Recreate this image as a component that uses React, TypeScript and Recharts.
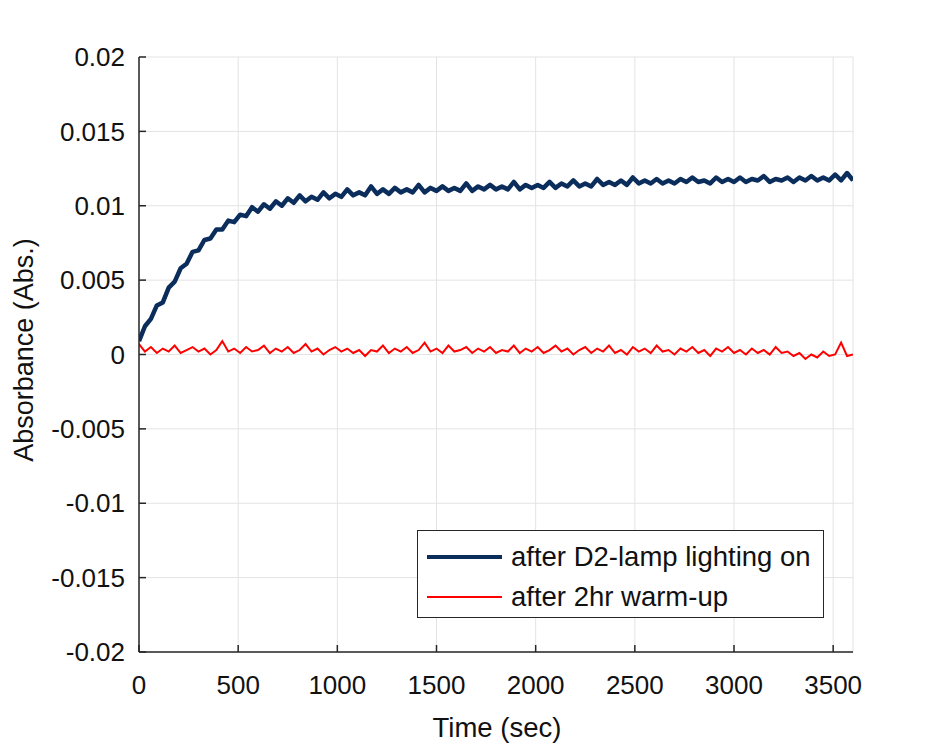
import React from 'react';
import { LineChart, Line, XAxis, YAxis, CartesianGrid, Legend, Label } from 'recharts';

const TIME = [
  0, 30, 60, 90, 120, 150, 180, 210, 240, 270, 300, 330, 360, 390, 420, 450, 480, 510, 540, 570,
  600, 630, 660, 690, 720, 750, 780, 810, 840, 870, 900, 930, 960, 990, 1020, 1050, 1080, 1110, 1140, 1170,
  1200, 1230, 1260, 1290, 1320, 1350, 1380, 1410, 1440, 1470, 1500, 1530, 1560, 1590, 1620, 1650, 1680, 1710, 1740, 1770,
  1800, 1830, 1860, 1890, 1920, 1950, 1980, 2010, 2040, 2070, 2100, 2130, 2160, 2190, 2220, 2250, 2280, 2310, 2340, 2370,
  2400, 2430, 2460, 2490, 2520, 2550, 2580, 2610, 2640, 2670, 2700, 2730, 2760, 2790, 2820, 2850, 2880, 2910, 2940, 2970,
  3000, 3030, 3060, 3090, 3120, 3150, 3180, 3210, 3240, 3270, 3300, 3330, 3360, 3390, 3420, 3450, 3480, 3510, 3540, 3570,
  3600,
];

const LAMP_ON = [
  0.0009, 0.0019, 0.0024, 0.0033, 0.0035, 0.0045, 0.0049, 0.0058, 0.0061, 0.0069, 0.0070, 0.0077, 0.0078, 0.0084, 0.0084, 0.0090, 0.0089, 0.0094, 0.0093, 0.0099,
  0.0096, 0.0101, 0.0098, 0.0103, 0.0100, 0.0105, 0.0102, 0.0107, 0.0103, 0.0106, 0.0104, 0.0109, 0.0105, 0.0108, 0.0106, 0.0111, 0.0107, 0.0109, 0.0107, 0.0113,
  0.0108, 0.0111, 0.0108, 0.0112, 0.0109, 0.0111, 0.0109, 0.0114, 0.0109, 0.0112, 0.0110, 0.0113, 0.0110, 0.0112, 0.0110, 0.0115, 0.0110, 0.0113, 0.0111, 0.0114,
  0.0111, 0.0113, 0.0111, 0.0116, 0.0111, 0.0114, 0.0112, 0.0114, 0.0112, 0.0116, 0.0112, 0.0115, 0.0113, 0.0117, 0.0113, 0.0115, 0.0113, 0.0118, 0.0114, 0.0116,
  0.0114, 0.0117, 0.0114, 0.0119, 0.0115, 0.0117, 0.0115, 0.0118, 0.0115, 0.0117, 0.0115, 0.0118, 0.0116, 0.0119, 0.0116, 0.0117, 0.0115, 0.0119, 0.0116, 0.0118,
  0.0116, 0.0119, 0.0116, 0.0118, 0.0117, 0.0120, 0.0116, 0.0118, 0.0117, 0.0119, 0.0116, 0.0119, 0.0117, 0.0120, 0.0117, 0.0119, 0.0117, 0.0121, 0.0117, 0.0122,
  0.0117,
];

const WARM_UP = [
  0.0007, 0.0002, 0.0005, 0.0001, 0.0004, 0.0002, 0.0006, 0.0001, 0.0003, 0.0005, 0.0002, 0.0004, 0.0000, 0.0003, 0.0009, 0.0002, 0.0004, 0.0001, 0.0005, 0.0002,
  0.0003, 0.0006, 0.0001, 0.0004, 0.0002, 0.0005, 0.0001, 0.0003, 0.0007, 0.0002, 0.0004, 0.0000, 0.0003, 0.0005, 0.0002, 0.0004, 0.0001, 0.0003, -0.0001, 0.0003,
  0.0002, 0.0006, 0.0001, 0.0004, 0.0002, 0.0005, 0.0001, 0.0003, 0.0008, 0.0002, 0.0004, 0.0001, 0.0006, 0.0002, 0.0003, 0.0005, 0.0001, 0.0004, 0.0002, 0.0005,
  0.0001, 0.0003, 0.0002, 0.0006, 0.0001, 0.0004, 0.0002, 0.0005, 0.0001, 0.0003, 0.0006, 0.0002, 0.0004, 0.0000, 0.0003, 0.0005, 0.0001, 0.0004, 0.0002, 0.0006,
  0.0001, 0.0003, 0.0000, 0.0005, 0.0002, 0.0004, 0.0001, 0.0006, 0.0002, 0.0003, 0.0000, 0.0004, 0.0002, 0.0005, 0.0001, 0.0003, -0.0001, 0.0004, 0.0002, 0.0005,
  0.0001, 0.0003, 0.0000, 0.0004, 0.0001, 0.0003, 0.0000, 0.0005, 0.0001, 0.0002, -0.0001, 0.0001, -0.0003, 0.0000, -0.0002, 0.0002, -0.0001, 0.0000, 0.0008, -0.0001,
  0.0000,
];

const SERIES_NAMES = ['after D2-lamp lighting on', 'after 2hr warm-up'];
const SERIES_COLORS = ['#0b2d5c', '#ff0000'];

const X_TICKS = [0, 500, 1000, 1500, 2000, 2500, 3000, 3500];
const Y_TICKS = [-0.02, -0.015, -0.01, -0.005, 0, 0.005, 0.01, 0.015, 0.02];
const Y_TICK_LABELS = ['-0.02', '-0.015', '-0.01', '-0.005', '0', '0.005', '0.01', '0.015', '0.02'];

const X_LABEL = 'Time (sec)';
const Y_LABEL = 'Absorbance (Abs.)';

const rows = TIME.map((t, i) => ({ t, lampOn: LAMP_ON[i], warmUp: WARM_UP[i] }));

const FONT = '"Liberation Sans", Arial, Helvetica, sans-serif';
const AXIS = '#262626';

const LegendBox = () => (
  <div
    style={{
      width: 407,
      height: 88,
      boxSizing: 'border-box',
      border: `1.5px solid ${AXIS}`,
      background: '#ffffff',
      fontFamily: FONT,
      fontSize: 27.5,
      color: '#111',
      position: 'relative',
    }}
  >
    {SERIES_NAMES.map((name, i) => (
      <div
        key={name}
        style={{
          position: 'absolute',
          left: 9,
          top: i === 0 ? 8 : 48,
          height: 36,
          display: 'flex',
          alignItems: 'center',
          whiteSpace: 'nowrap',
        }}
      >
        <div
          style={{
            width: 75,
            height: i === 0 ? 3.5 : 1.5,
            background: SERIES_COLORS[i],
            marginRight: 9,
          }}
        />
        <span>{name}</span>
      </div>
    ))}
  </div>
);

const YTitle = () => {
  const cy = 350;
  return (
    <text
      x={33}
      y={cy}
      transform={`rotate(-90, 33, ${cy})`}
      textAnchor="middle"
      fontFamily={FONT}
      fontSize={27}
      fill="#111"
    >
      {Y_LABEL}
    </text>
  );
};

const XTitle = () => (
  <text x={497} y={737} textAnchor="middle" fontFamily={FONT} fontSize={27.5} fill="#111">
    {X_LABEL}
  </text>
);

export default function App() {
  return (
    <div style={{ position: 'absolute', left: 0, top: 0, width: 945, height: 745, background: '#fff' }}>
      <LineChart
        width={945}
        height={745}
        data={rows}
        margin={{ top: 57, right: 92, bottom: 0, left: 0 }}
      >
        <CartesianGrid stroke="#e3e3e3" strokeWidth={1} />
        <XAxis
          dataKey="t"
          type="number"
          domain={[0, 3600]}
          ticks={X_TICKS}
          height={93}
          tickSize={-7}
          tickMargin={31}
          stroke={AXIS}
          strokeWidth={1.5}
          tick={{ fill: '#111', fontSize: 26, fontFamily: FONT }}
          allowDataOverflow
        >
          <Label content={<XTitle />} />
        </XAxis>
        <XAxis
          xAxisId="top"
          orientation="top"
          dataKey="t"
          type="number"
          domain={[0, 3600]}
          ticks={X_TICKS}
          height={0}
          tickSize={-7}
          tickFormatter={() => ''}
          stroke={AXIS}
          strokeWidth={1.5}
          allowDataOverflow
        />
        <YAxis
          type="number"
          domain={[-0.02, 0.02]}
          ticks={Y_TICKS}
          width={139}
          tickSize={-7}
          tickMargin={21}
          stroke={AXIS}
          strokeWidth={1.5}
          tickFormatter={(v: number) => Y_TICK_LABELS[Y_TICKS.indexOf(v)] ?? String(v)}
          tick={{ fill: '#111', fontSize: 26, fontFamily: FONT }}
          allowDataOverflow
        >
          <Label content={<YTitle />} />
        </YAxis>
        <YAxis
          yAxisId="right"
          orientation="right"
          type="number"
          domain={[-0.02, 0.02]}
          ticks={Y_TICKS}
          width={0}
          tickSize={-7}
          tickFormatter={() => ''}
          stroke={AXIS}
          strokeWidth={1.5}
          allowDataOverflow
        />
        <Line
          type="linear"
          dataKey="lampOn"
          name={SERIES_NAMES[0]}
          stroke={SERIES_COLORS[0]}
          strokeWidth={4.5}
          dot={false}
          isAnimationActive={false}
          strokeLinejoin="round"
        />
        <Line
          type="linear"
          dataKey="warmUp"
          name={SERIES_NAMES[1]}
          stroke={SERIES_COLORS[1]}
          strokeWidth={2}
          dot={false}
          isAnimationActive={false}
        />
        <Legend
          layout="horizontal"
          verticalAlign="middle"
          align="center"
          content={<LegendBox />}
          wrapperStyle={{ position: 'absolute', left: 417, top: 530, width: 407, height: 88 }}
        />
      </LineChart>
    </div>
  );
}
